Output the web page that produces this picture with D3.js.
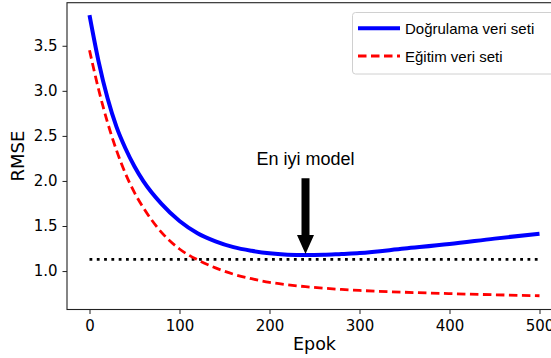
<!DOCTYPE html>
<html>
<head>
<meta charset="utf-8">
<script src="https://cdn.jsdelivr.net/npm/d3@7"></script>
<style>
  body { margin: 0; background: #fff; }
  text { fill: #000; }
</style>
</head>
<body>
<div id="root"></div>
<script>
const epochs = [0, 10, 20, 30, 40, 50, 60, 80, 100, 120, 140, 160, 180, 200, 220, 240, 260, 280, 300, 350, 400, 450, 500];

// validation RMSE (blue, solid)
const valRmse = [3.84, 3.33, 2.92, 2.60, 2.36, 2.16, 1.995, 1.745, 1.555, 1.42, 1.33, 1.265, 1.225, 1.197, 1.182, 1.177, 1.18, 1.19, 1.20, 1.25, 1.30, 1.36, 1.415];

// training RMSE (red, dashed)
const trainRmse = [3.45, 3.02, 2.65, 2.34, 2.08, 1.87, 1.70, 1.43, 1.245, 1.125, 1.035, 0.965, 0.915, 0.875, 0.848, 0.827, 0.81, 0.796, 0.785, 0.765, 0.75, 0.737, 0.726];

const seriesNames = ["Doğrulama veri seti", "Eğitim veri seti"];
const xTicks = [0, 100, 200, 300, 400, 500];
const yTicks = [1.0, 1.5, 2.0, 2.5, 3.0, 3.5];

// best model marker
const bestEpoch = 240;
const bestLevel = 1.13;       // dotted horizontal line
const arrowTail = 2.03;
const arrowTip = 1.19;
const labelLevel = 2.18;
const labelText = "En iyi model";

const width = 551, height = 358;
const plotLeft = 67, plotTop = 2.7, plotRight = 562, plotBottom = 309.5;

const x = d3.scaleLinear().domain([-25, 525]).range([plotLeft, plotRight]);
const y = d3.scaleLinear().domain([0.5735, 3.978]).range([plotBottom, plotTop]);

const svg = d3.select("#root").append("svg")
  .attr("width", width)
  .attr("height", height)
  .style("display", "block");

// axes
const xAxis = svg.append("g")
  .attr("transform", `translate(0,${plotBottom})`)
  .call(d3.axisBottom(x).tickValues(xTicks).tickFormat(d3.format("d")).tickSizeOuter(0).tickSize(4.5).tickPadding(6));
const yAxis = svg.append("g")
  .attr("transform", `translate(${plotLeft},0)`)
  .call(d3.axisLeft(y).tickValues(yTicks).tickFormat(d3.format(".1f")).tickSizeOuter(0).tickSize(4.5).tickPadding(5));

[xAxis, yAxis].forEach(g => {
  g.select(".domain").remove();
  g.selectAll(".tick line").attr("stroke", "#222").attr("stroke-width", 1);
  g.selectAll(".tick text")
    .attr("font-family", "DejaVu Sans")
    .attr("font-size", 15)
    .attr("fill", "#111");
});
xAxis.selectAll(".tick text").attr("dy", "0.72em");

// spines
svg.append("rect")
  .attr("x", plotLeft).attr("y", plotTop)
  .attr("width", plotRight - plotLeft).attr("height", plotBottom - plotTop)
  .attr("fill", "none")
  .attr("stroke", "#222")
  .attr("stroke-width", 1.1);

// axis labels
svg.append("text")
  .attr("x", (plotLeft + plotRight) / 2).attr("y", 349.5)
  .attr("text-anchor", "middle")
  .attr("font-family", "DejaVu Sans")
  .attr("font-size", 17.5)
  .text("Epok");

svg.append("text")
  .attr("transform", `translate(24,${(plotTop + plotBottom) / 2}) rotate(-90)`)
  .attr("text-anchor", "middle")
  .attr("font-family", "DejaVu Sans")
  .attr("font-size", 18)
  .text("RMSE");

const plot = svg.append("g");

// dotted best-level line
plot.append("line")
  .attr("x1", x(0)).attr("x2", x(500))
  .attr("y1", y(bestLevel)).attr("y2", y(bestLevel))
  .attr("stroke", "#000")
  .attr("stroke-width", 2.6)
  .attr("stroke-dasharray", "2.8,4.5");

const line = d3.line().curve(d3.curveMonotoneX);

plot.append("path")
  .datum(epochs.map((e, i) => [x(e), y(trainRmse[i])]))
  .attr("d", line)
  .attr("fill", "none")
  .attr("stroke", "#ff0000")
  .attr("stroke-width", 2.8)
  .attr("stroke-dasharray", "8.5,4.5");

plot.append("path")
  .datum(epochs.map((e, i) => [x(e), y(valRmse[i])]))
  .attr("d", line)
  .attr("fill", "none")
  .attr("stroke", "#0000ff")
  .attr("stroke-width", 4);

// annotation arrow
const ax = x(bestEpoch);
const headLen = 19, headHalf = 8.5, shaftHalf = 4;
const tipY = y(arrowTip), tailY = y(arrowTail);
svg.append("path")
  .attr("d", `M${ax - shaftHalf},${tailY} L${ax + shaftHalf},${tailY} L${ax + shaftHalf},${tipY - headLen}
    L${ax + headHalf},${tipY - headLen} L${ax},${tipY} L${ax - headHalf},${tipY - headLen}
    L${ax - shaftHalf},${tipY - headLen} Z`)
  .attr("fill", "#000");

svg.append("text")
  .attr("x", ax).attr("y", y(labelLevel))
  .attr("text-anchor", "middle")
  .attr("font-family", "Liberation Sans")
  .attr("font-size", 18)
  .text(labelText);

// legend
const legend = svg.append("g");
legend.append("rect")
  .attr("x", 352.5).attr("y", 12.5)
  .attr("width", 203).attr("height", 61.5)
  .attr("rx", 3)
  .attr("fill", "#fff").attr("fill-opacity", 0.8)
  .attr("stroke", "#d0d0d0").attr("stroke-width", 1);

const legendStyles = [
  { color: "#0000ff", width: 4, dash: null },
  { color: "#ff0000", width: 2.8, dash: "8.5,4.5" }
];
seriesNames.forEach((name, i) => {
  const ly = 28.3 + i * 27.7;
  legend.append("line")
    .attr("x1", 358).attr("x2", 400)
    .attr("y1", ly).attr("y2", ly)
    .attr("stroke", legendStyles[i].color)
    .attr("stroke-width", legendStyles[i].width)
    .attr("stroke-dasharray", legendStyles[i].dash);
  legend.append("text")
    .attr("x", 405).attr("y", ly + 5.5)
    .attr("font-family", "Liberation Sans")
    .attr("font-size", 15)
    .text(name);
});
</script>
</body>
</html>
